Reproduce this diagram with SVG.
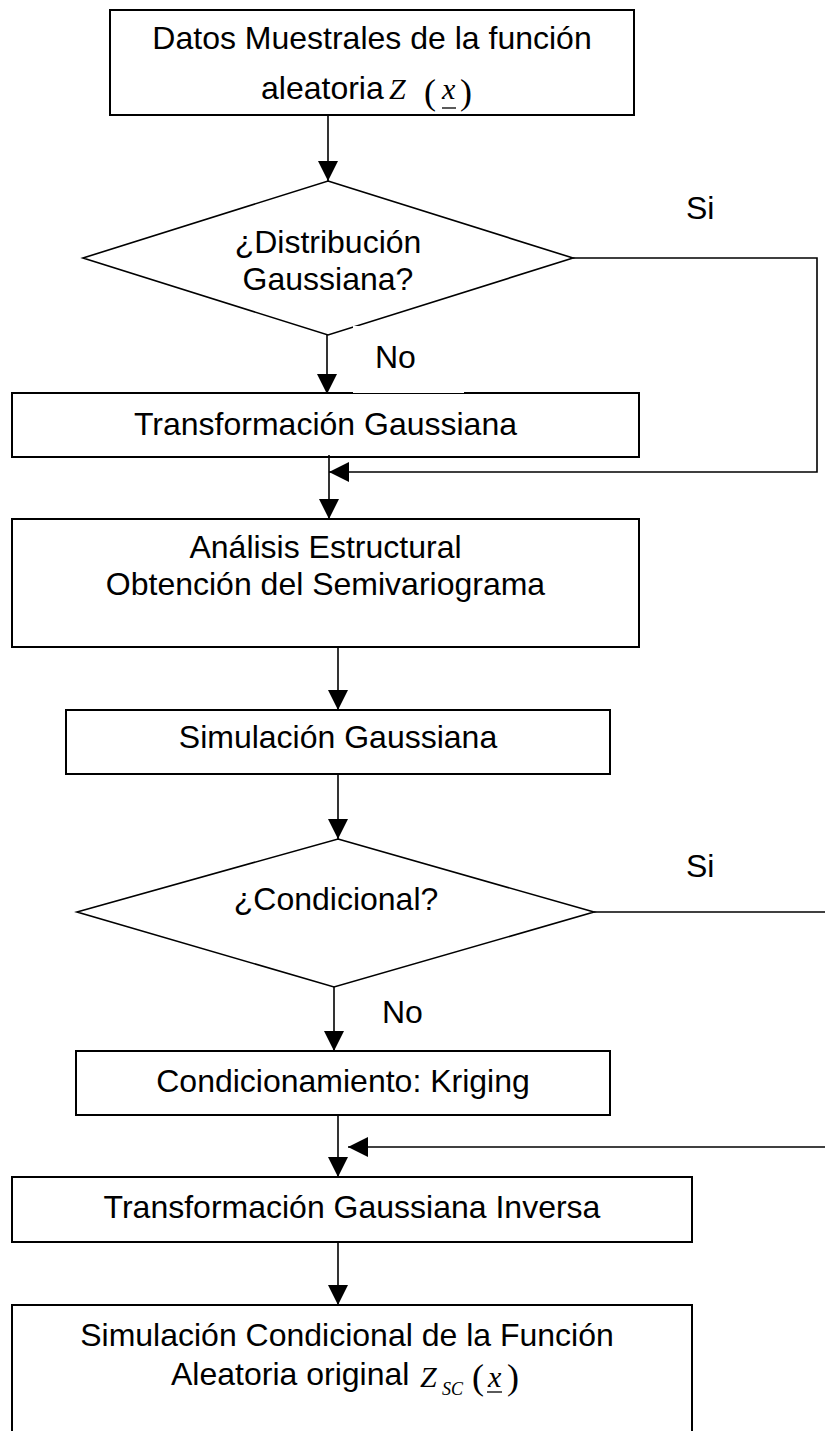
<svg xmlns="http://www.w3.org/2000/svg" width="825" height="1431" viewBox="0 0 825 1431">
<style>
.box{fill:#fff;stroke:#000;stroke-width:2}
.dia{fill:#fff;stroke:#000;stroke-width:1.6}
.con{fill:none;stroke:#000;stroke-width:1.6}
.t{font-family:"Liberation Sans",Arial,sans-serif;font-size:32px;fill:#000}
.c{text-anchor:middle}
.m{font-family:"Liberation Serif","Times New Roman",serif;font-style:italic;font-size:30px;fill:#000}
.p{font-family:"Liberation Serif","Times New Roman",serif;font-size:36px;fill:#000}
.s{font-family:"Liberation Serif","Times New Roman",serif;font-style:italic;font-size:18px;fill:#000}
</style>
<defs>
<marker id="ah" viewBox="0 0 20 20" refX="20" refY="10" markerWidth="20" markerHeight="20" markerUnits="userSpaceOnUse" orient="auto">
<path d="M0,0 L20,10 L0,20 z" fill="#000"/>
</marker>
</defs>
<rect width="825" height="1431" fill="#fff"/>
<g id="n1">
<rect class="box" x="110" y="10" width="524" height="105"/>
<text class="t c" x="372" y="49">Datos Muestrales de la función</text>
<text class="t" x="261" y="99">aleatoria</text>
<text class="m" x="389" y="99">Z</text>
<text class="p" x="424" y="104">(</text>
<text class="m" x="442" y="99">x</text>
<line x1="442" y1="108" x2="456" y2="108" stroke="#000" stroke-width="1.3"/>
<text class="p" x="460" y="104">)</text>
</g>
<g id="n2">
<polygon class="dia" points="328,181 573,258 328,335 83,258"/>
<text class="t c" x="328" y="253">¿Distribución</text>
<text class="t c" x="328" y="290">Gaussiana?</text>
</g>
<g id="n3">
<rect class="box" x="12" y="393" width="627" height="64"/>
<text class="t c" x="325.5" y="435">Transformación Gaussiana</text>
</g>
<g id="n4">
<rect class="box" x="12" y="519" width="627" height="128"/>
<text class="t c" x="325.5" y="558">Análisis Estructural</text>
<text class="t c" x="325.5" y="595">Obtención del Semivariograma</text>
</g>
<g id="n5">
<rect class="box" x="66" y="710" width="544" height="64"/>
<text class="t c" x="338" y="748">Simulación Gaussiana</text>
</g>
<g id="n6">
<polygon class="dia" points="338,839 594,912 334,987 77,912"/>
<text class="t c" x="336" y="910">¿Condicional?</text>
</g>
<g id="n7">
<rect class="box" x="76" y="1051" width="534" height="64"/>
<text class="t c" x="343" y="1092">Condicionamiento: Kriging</text>
</g>
<g id="n8">
<rect class="box" x="12" y="1177" width="680" height="65"/>
<text class="t c" x="352" y="1218">Transformación Gaussiana Inversa</text>
</g>
<g id="n9">
<rect class="box" x="12" y="1305" width="680" height="200"/>
<text class="t c" x="347" y="1346">Simulación Condicional de la Función</text>
<text class="t" x="171" y="1385">Aleatoria original</text>
<text class="m" x="420" y="1387">Z</text>
<text class="s" x="442" y="1395">SC</text>
<text class="p" x="472" y="1389">(</text>
<text class="m" x="488" y="1387">x</text>
<line x1="487" y1="1392" x2="502" y2="1392" stroke="#000" stroke-width="1.3"/>
<text class="p" x="507" y="1389">)</text>
</g>
<g id="connectors">
<path class="con" d="M328,115 V181" marker-end="url(#ah)"/>
<path class="con" d="M327,335 V394" marker-end="url(#ah)"/>
<path class="con" d="M573,258 H817 V472 H329" marker-end="url(#ah)"/>
<path class="con" d="M329,455 V519" marker-end="url(#ah)"/>
<path class="con" d="M338,647 V710" marker-end="url(#ah)"/>
<path class="con" d="M338,774 V839" marker-end="url(#ah)"/>
<path class="con" d="M334,987 V1051" marker-end="url(#ah)"/>
<path class="con" d="M594,912 H825"/>
<path class="con" d="M825,1147 H348" marker-end="url(#ah)"/>
<path class="con" d="M338,1115 V1177" marker-end="url(#ah)"/>
<path class="con" d="M338,1242 V1305" marker-end="url(#ah)"/>
</g>
<g id="labels">
<text class="t" x="686" y="219">Si</text>
<rect x="353" y="326" width="111" height="67" fill="#fff"/>
<text class="t" x="375" y="368">No</text>
<text class="t" x="686" y="877">Si</text>
<text class="t" x="382" y="1023">No</text>
</g>
</svg>
